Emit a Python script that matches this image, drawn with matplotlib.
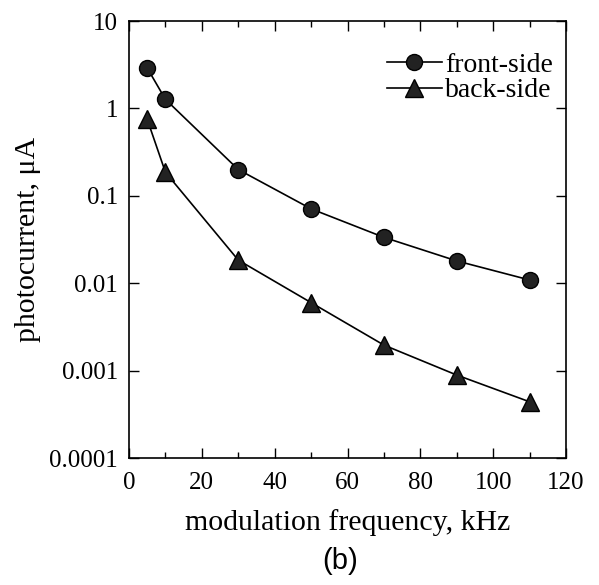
import matplotlib
matplotlib.use("Agg")
import matplotlib.pyplot as plt
from matplotlib.ticker import MultipleLocator, FixedLocator, FixedFormatter, NullLocator

# data
freq = [5, 10, 30, 50, 70, 90, 110]
front_side = [2.9, 1.27, 0.20, 0.071, 0.0335, 0.018, 0.0109]
back_side = [0.75, 0.186, 0.0184, 0.0060, 0.00196, 0.00089, 0.00044]
y_ticks = [0.0001, 0.001, 0.01, 0.1, 1, 10]
y_labels = ["0.0001", "0.001", "0.01", "0.1", "1", "10"]

plt.rcParams["font.family"] = ["Liberation Serif", "DejaVu Serif"]

fig = plt.figure(figsize=(5.99, 5.85), dpi=100)
ax = fig.add_axes([0.2154, 0.217, 0.7296, 0.747])

ax.plot(freq, front_side, "-o", color="black", mfc="#222222", mec="black",
        markersize=11.5, linewidth=1.2, label="front-side")
ax.plot(freq, back_side, "-^", color="black", mfc="#222222", mec="black",
        markersize=12.5, linewidth=1.2, label="back-side")

ax.set_yscale("log")
ax.set_xlim(0, 120)
ax.set_ylim(0.0001, 10)
ax.xaxis.set_major_locator(MultipleLocator(20))
ax.xaxis.set_minor_locator(MultipleLocator(10))
ax.yaxis.set_major_locator(FixedLocator(y_ticks))
ax.yaxis.set_major_formatter(FixedFormatter(y_labels))
ax.yaxis.set_minor_locator(NullLocator())

ax.tick_params(which="both", direction="in", top=True, right=True, labelsize=18)
ax.tick_params(which="major", length=7, width=1)
ax.tick_params(which="minor", length=4, width=1)
ax.tick_params(axis="x", pad=10)
ax.tick_params(axis="y", pad=8)
for s in ax.spines.values():
    s.set_linewidth(1.2)

ax.set_xlabel("modulation frequency, kHz", fontsize=21.5, labelpad=11)
ax.set_ylabel("photocurrent, μA", fontsize=21.5, labelpad=6)

ax.legend(loc="upper right", bbox_to_anchor=(0.9886, 0.947), frameon=False,
          fontsize=20, handlelength=2.0, handletextpad=0.1, borderaxespad=0,
          labelspacing=0.0, borderpad=0.3)

fig.text(0.568, 0.027, "(b)", family="Liberation Sans", fontsize=21, ha="center")

fig.savefig("out.png", dpi=100)
